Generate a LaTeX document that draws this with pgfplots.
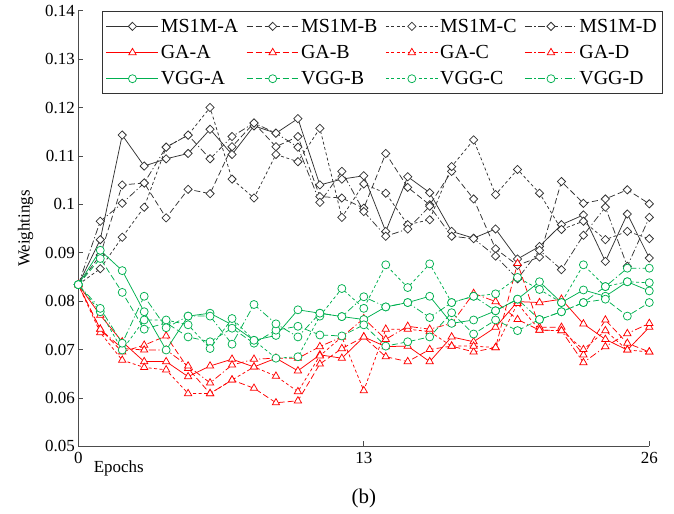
\documentclass[border=0pt]{standalone}
\usepackage{fontspec}
\setmainfont{Liberation Serif}
\usepackage{pgfplots}
\usepackage{pgfplotstable}
\pgfplotsset{compat=1.18}

\definecolor{msc}{HTML}{333333}
\definecolor{gac}{HTML}{FF0000}
\definecolor{vgc}{HTML}{00B050}

% weightings per epoch
\pgfplotstableread{
ep A B C D
0 0.0834 0.0834 0.0834 0.0834
1 0.0927 0.0895 0.0867 0.0965
2 0.1143 0.1040 0.0932 0.1002
3 0.1079 0.1044 0.0994 0.1044
4 0.1094 0.0972 0.1118 0.1118
5 0.1105 0.1031 0.1143 0.1143
6 0.1155 0.1022 0.1200 0.1094
7 0.1103 0.1119 0.1052 0.1140
8 0.1162 0.1168 0.1013 0.1168
9 0.1147 0.1119 0.1103 0.1147
10 0.1177 0.1140 0.1088 0.1118
11 0.1040 0.1016 0.1157 0.1004
12 0.1052 0.1013 0.0973 0.1068
13 0.1059 0.0992 0.1042 0.0985
14 0.0944 0.1105 0.1023 0.0934
15 0.1057 0.1035 0.0958 0.0949
16 0.1024 0.0999 0.0968 0.0996
17 0.0944 0.1068 0.1078 0.0934
18 0.0930 0.1011 0.1133 0.0929
19 0.0949 0.0908 0.1020 0.0893
20 0.0887 0.0874 0.1072 0.0846
21 0.0913 0.0891 0.1023 0.0905
22 0.0958 0.1047 0.0948 0.0865
23 0.0978 0.1002 0.0965 0.0936
24 0.0882 0.1011 0.0927 0.0994
25 0.0980 0.1030 0.0944 0.0872
26 0.0889 0.1001 0.0929 0.0973
}\ms

\pgfplotstableread{
ep A B C D
0 0.0834 0.0834 0.0834 0.0834
1 0.0771 0.0742 0.0735 0.0742
2 0.0716 0.0695 0.0678 0.0702
3 0.0675 0.0709 0.0663 0.0699
4 0.0675 0.0728 0.0658 0.0699
5 0.0644 0.0661 0.0609 0.0666
6 0.0666 0.0609 0.0609 0.0631
7 0.0680 0.0637 0.0637 0.0668
8 0.0664 0.0620 0.0664 0.0680
9 0.0682 0.0590 0.0645 0.0682
10 0.0656 0.0594 0.0613 0.0682
11 0.0689 0.0670 0.0687 0.0706
12 0.0682 0.0702 0.0726 0.0726
13 0.0726 0.0726 0.0615 0.0764
14 0.0706 0.0685 0.0742 0.0721
15 0.0707 0.0675 0.0742 0.0748
16 0.0675 0.0700 0.0737 0.0742
17 0.0726 0.0707 0.0707 0.0754
18 0.0716 0.0695 0.0707 0.0816
19 0.0746 0.0704 0.0704 0.0799
20 0.0799 0.0878 0.0795 0.0762
21 0.0797 0.0746 0.0740 0.0740
22 0.0804 0.0746 0.0739 0.0739
23 0.0753 0.0689 0.0700 0.0673
24 0.0721 0.0761 0.0739 0.0706
25 0.0699 0.0713 0.0699 0.0733
26 0.0746 0.0695 0.0695 0.0754
}\ga

\pgfplotstableread{
ep A B C D
0 0.0834 0.0834 0.0834 0.0834
1 0.0905 0.0888 0.0778 0.0785
2 0.0863 0.0818 0.0699 0.0713
3 0.0778 0.0742 0.0761 0.0810
4 0.0699 0.0755 0.0761 0.0745
5 0.0769 0.0726 0.0751 0.0769
6 0.0775 0.0716 0.0702 0.0769
7 0.0751 0.0744 0.0764 0.0711
8 0.0719 0.0713 0.0719 0.0793
9 0.0729 0.0740 0.0682 0.0753
10 0.0782 0.0748 0.0685 0.0726
11 0.0775 0.0730 0.0769 0.0775
12 0.0768 0.0728 0.0826 0.0768
13 0.0762 0.0751 0.0785 0.0809
14 0.0788 0.0707 0.0875 0.0788
15 0.0797 0.0716 0.0828 0.0797
16 0.0810 0.0726 0.0877 0.0766
17 0.0754 0.0776 0.0797 0.0797
18 0.0761 0.0732 0.0810 0.0810
19 0.0780 0.0761 0.0815 0.0780
20 0.0804 0.0739 0.0849 0.0804
21 0.0840 0.0762 0.0824 0.0762
22 0.0797 0.0778 0.0797 0.0778
23 0.0823 0.0797 0.0875 0.0797
24 0.0810 0.0804 0.0830 0.0830
25 0.0840 0.0769 0.0840 0.0868
26 0.0821 0.0797 0.0838 0.0868
}\vgg

\tikzset{
  dA/.style={solid},
  dB/.style={dash pattern=on 6bp off 3bp},
  dC/.style={dash pattern=on 3bp off 2.5bp},
  dD/.style={dash pattern=on 7bp off 2.5bp on 1.2bp off 2.5bp},
}
\pgfplotsset{
  ms/.style={msc, mark=square*, mark size=2.9bp, mark options={solid, rotate=45, fill=white}},
  ga/.style={gac, mark=triangle*, mark size=4.2bp, mark options={solid, fill=white}},
  vg/.style={vgc, mark=*, mark size=4bp, mark options={solid, fill=white}},
}

\begin{document}
\begin{tikzpicture}
\useasboundingbox (-78.3bp,-67.7bp) rectangle (595.7bp,446.3bp);
\begin{axis}[
  at={(0,0)}, anchor=south west,
  scale only axis, width=571bp, height=435.6bp,
  xmin=0, xmax=26, ymin=0.05, ymax=0.14,
  axis lines*=left,
  axis line style={draw=black!70, line width=0.8bp},
  tick align=inside, major tick length=5bp,
  tick style={black!70, line width=0.8bp},
  xtick={0,13,26},
  ytick={0.05,0.06,0.07,0.08,0.09,0.1,0.11,0.12,0.13,0.14},
  scaled y ticks=false,
  yticklabel style={/pgf/number format/fixed, /pgf/number format/precision=2},
  /pgf/number format/assume math mode=true,
  ticklabel style={font=\fontsize{17}{20}\selectfont},
  xticklabel style={yshift=-2bp},
  label style={font=\fontsize{17}{20}\selectfont},
  xlabel={Epochs},
  xlabel style={at={(axis description cs:0,0)}, anchor=base west, xshift=12bp, yshift=-26bp},
  ylabel={Weightings},
  ylabel shift=5bp,
  every axis plot/.append style={line width=0.75bp},
  clip=false,
  legend columns=4,
  legend cell align=left,
  legend image code/.code={\draw[mark repeat=2,mark phase=2,#1] plot coordinates {(0bp,0bp) (26bp,0bp) (52bp,0bp)};},
  legend style={at={(0.041,0.999)}, anchor=north west, draw=black!80, line width=0.8bp,
    font=\fontsize{20}{24}\selectfont, row sep=7.5bp, inner xsep=4bp, inner ysep=5.5bp,
    /tikz/every even column/.append style={column sep=6bp}},
]
\addplot[ms, dA] table[x=ep, y=A] {\ms}; \addlegendentry{MS1M-A}
\addplot[ms, dB] table[x=ep, y=B] {\ms}; \addlegendentry{MS1M-B}
\addplot[ms, dC] table[x=ep, y=C] {\ms}; \addlegendentry{MS1M-C}
\addplot[ms, dD] table[x=ep, y=D] {\ms}; \addlegendentry{MS1M-D}
\addplot[ga, dA] table[x=ep, y=A] {\ga}; \addlegendentry{GA-A}
\addplot[ga, dB] table[x=ep, y=B] {\ga}; \addlegendentry{GA-B}
\addplot[ga, dC] table[x=ep, y=C] {\ga}; \addlegendentry{GA-C}
\addplot[ga, dD] table[x=ep, y=D] {\ga}; \addlegendentry{GA-D}
\addplot[vg, dA] table[x=ep, y=A] {\vgg}; \addlegendentry{VGG-A}
\addplot[vg, dB] table[x=ep, y=B] {\vgg}; \addlegendentry{VGG-B}
\addplot[vg, dC] table[x=ep, y=C] {\vgg}; \addlegendentry{VGG-C}
\addplot[vg, dD] table[x=ep, y=D] {\vgg}; \addlegendentry{VGG-D}
\end{axis}
\node[anchor=base, font=\fontsize{21}{24}\selectfont] at (285.5bp,-57bp) {(b)};
\end{tikzpicture}
\end{document}
